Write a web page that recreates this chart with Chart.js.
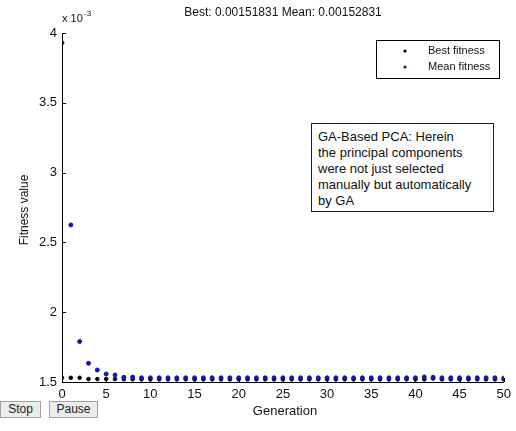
<!DOCTYPE html>
<html>
<head>
<meta charset="utf-8">
<script src="https://cdn.jsdelivr.net/npm/chart.js@4/dist/chart.umd.min.js"></script>
<style>
  body { margin: 0; background: #fff; font-family: "Liberation Sans", Arial, sans-serif; }
  #wrap { position: relative; width: 516px; height: 431px; }
  canvas { position: absolute; left: 0; top: 0; }
  .btn { position: absolute; top: 401px; height: 17px; background: #ececec; border: 1px solid #a0a0a0;
         font-size: 12px; line-height: 15px; text-align: center; color: #222; box-sizing: border-box; }
  #note { position: absolute; left: 311px; top: 123px; width: 183px; height: 89px; border: 1px solid #222;
          box-sizing: border-box; padding: 5px 6px; font-size: 13px; line-height: 16px; color: #111;
          background: #fff; white-space: nowrap; }
</style>
</head>
<body>
<div id="wrap">
  <canvas id="gaChart" width="516" height="431"></canvas>
  <div id="note">GA-Based PCA: Herein<br>the principal components<br>were not just selected<br>manually but automatically<br>by GA</div>
  <div class="btn" style="left:0;width:41px">Stop</div>
  <div class="btn" style="left:49px;width:49px">Pause</div>
</div>
<script>
// ── GA fitness plot (values in units of 10^-3) ──
const generations = Array.from({ length: 51 }, (_, i) => i);

const bestFitness = [
  1.530, 1.530, 1.530, 1.521, 1.521, 1.521, 1.521, 1.520, 1.520, 1.519,
  1.519, 1.519, 1.519, 1.519, 1.519, 1.519, 1.519, 1.519, 1.519, 1.519,
  1.519, 1.519, 1.519, 1.519, 1.519, 1.519, 1.519, 1.519, 1.519, 1.519,
  1.519, 1.519, 1.519, 1.519, 1.519, 1.519, 1.519, 1.519, 1.519, 1.519,
  1.519, 1.519, 1.525, 1.519, 1.519, 1.519, 1.519, 1.519, 1.519, 1.519,
  1.518
];

const meanFitness = [
  3.930, 2.625, 1.790, 1.634, 1.586, 1.557, 1.550, 1.534, 1.535, 1.530,
  1.530, 1.530, 1.530, 1.530, 1.530, 1.530, 1.530, 1.530, 1.530, 1.530,
  1.530, 1.530, 1.530, 1.530, 1.530, 1.530, 1.530, 1.530, 1.530, 1.530,
  1.530, 1.530, 1.530, 1.530, 1.530, 1.530, 1.530, 1.530, 1.530, 1.530,
  1.530, 1.536, 1.534, 1.530, 1.530, 1.530, 1.530, 1.530, 1.530, 1.530,
  1.528
];

const xTicks = [0, 5, 10, 15, 20, 25, 30, 35, 40, 45, 50];
const yTicks = [1.5, 2, 2.5, 3, 3.5, 4];

const BLUE = '#1414b4';
const FONT = '"Liberation Sans", Arial, sans-serif';

// inward ticks, labels, legend box, title
const matlabLook = {
  id: 'matlabLook',
  afterDraw(chart) {
    const { ctx, chartArea: a, scales: { x, y } } = chart;
    ctx.save();
    ctx.strokeStyle = '#000';
    ctx.lineWidth = 1;
    ctx.beginPath();
    ctx.moveTo(a.left + 0.5, a.top);
    ctx.lineTo(a.left + 0.5, a.bottom + 0.5);
    ctx.lineTo(a.right, a.bottom + 0.5);
    xTicks.forEach(t => {
      const px = Math.round(x.getPixelForValue(t)) + 0.5;
      ctx.moveTo(px, a.bottom); ctx.lineTo(px, a.bottom - 4);
    });
    yTicks.forEach(t => {
      const py = Math.round(y.getPixelForValue(t)) + 0.5;
      ctx.moveTo(a.left, py); ctx.lineTo(a.left + 4, py);
    });
    ctx.stroke();

    ctx.fillStyle = '#111';
    ctx.font = '12px ' + FONT;
    ctx.textAlign = 'center';
    ctx.textBaseline = 'middle';
    ctx.fillText('Best: 0.00151831 Mean: 0.00152831', 283, 13);
    ctx.font = '13px ' + FONT;
    ctx.fillText('Generation', 285, 411);

    ctx.textAlign = 'left';
    ctx.font = '11px ' + FONT;
    ctx.fillText('x 10', 62, 19);
    ctx.font = '8px ' + FONT;
    ctx.fillText('-3', 84, 14);

    ctx.font = '12px ' + FONT;
    ctx.save();
    ctx.translate(25, 210);
    ctx.rotate(-Math.PI / 2);
    ctx.textAlign = 'center';
    ctx.fillText('Fitness value', 0, 0);
    ctx.restore();

    // legend
    ctx.fillStyle = '#fff';
    ctx.fillRect(376, 40, 123, 38);
    ctx.strokeRect(376.5, 40.5, 123, 38);
    ctx.font = '11px ' + FONT;
    ctx.textAlign = 'left';
    ctx.fillStyle = '#111';
    ctx.fillText(chart.data.datasets[0].label, 428, 51);
    ctx.fillText(chart.data.datasets[1].label, 428, 67);
    ctx.fillStyle = '#000';
    ctx.beginPath(); ctx.arc(405, 51, 1.6, 0, Math.PI * 2); ctx.fill();
    ctx.fillStyle = BLUE;
    ctx.beginPath(); ctx.arc(405, 67, 1.6, 0, Math.PI * 2); ctx.fill();
    ctx.restore();
  }
};

new Chart(document.getElementById('gaChart'), {
  type: 'scatter',
  data: {
    datasets: [
      {
        label: 'Best fitness',
        data: generations.map((g, i) => ({ x: g, y: bestFitness[i] })),
        backgroundColor: '#000', borderColor: '#000',
        pointRadius: 1.8, pointStyle: 'circle', order: 2
      },
      {
        label: 'Mean fitness',
        data: generations.map((g, i) => ({ x: g, y: meanFitness[i] })),
        backgroundColor: BLUE, borderColor: BLUE,
        pointRadius: 2, pointStyle: 'circle', order: 1
      }
    ]
  },
  options: {
    responsive: false,
    animation: false,
    events: [],
    layout: { padding: { left: 0, top: 33, right: 10, bottom: 0 } },
    plugins: { legend: { display: false }, tooltip: { enabled: false } },
    scales: {
      x: {
        type: 'linear', min: 0, max: 50,
        afterFit: s => { s.height = 49; },
        afterBuildTicks: s => { s.ticks = xTicks.map(v => ({ value: v })); },
        grid: { display: false, drawTicks: false },
        border: { display: false },
        ticks: { color: '#111', font: { size: 13, family: FONT }, padding: 5, maxRotation: 0 }
      },
      y: {
        type: 'linear', min: 1.5, max: 4,
        afterFit: s => { s.width = 62; },
        afterBuildTicks: s => { s.ticks = yTicks.map(v => ({ value: v })); },
        grid: { display: false, drawTicks: false },
        border: { display: false },
        ticks: { color: '#111', font: { size: 13, family: FONT }, padding: 5, callback: v => String(v) }
      }
    }
  },
  plugins: [matlabLook]
});
</script>
</body>
</html>
